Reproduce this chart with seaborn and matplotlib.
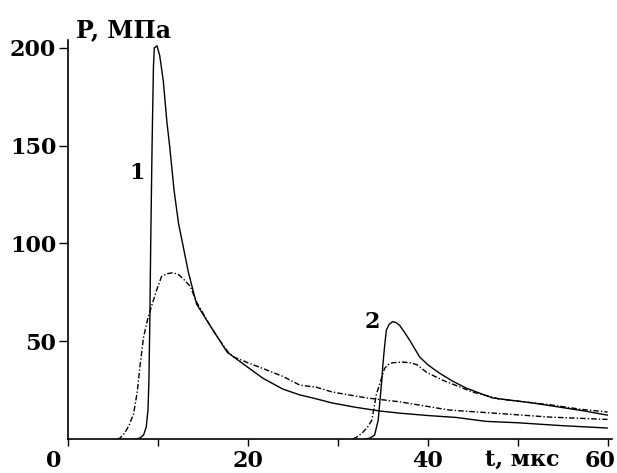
import numpy as np
import pandas as pd
import matplotlib
matplotlib.use("Agg")
import matplotlib.pyplot as plt
import matplotlib.transforms as mtransforms
import seaborn as sns

# curve 1, solid
t1_solid = [7.5, 8.0, 8.4, 8.7, 8.9, 9.0, 9.1, 9.2, 9.35, 9.5, 9.6, 9.9, 10.2, 10.6, 11.0, 11.3,
            11.8, 12.3, 12.7, 13.4, 14.3, 15.8, 16.5, 17.7, 19.9, 21.7, 23.9, 25.8, 27.2, 29.4,
            32.0, 34.7, 36.9, 40.0, 43.2, 46.5, 50.0, 55.0, 60.0]
p1_solid = [0, 0.5, 2, 6, 15, 30, 60, 100, 150, 190, 200, 201, 196, 183, 162, 150,
            127, 110, 101, 85, 69, 58, 53, 44.4, 37, 31, 25.5, 22.5, 21, 18.4,
            16.2, 14.3, 13.2, 12.0, 11.0, 9.0, 8.3, 6.8, 5.6]

# curve 1, dash-dot
t1_dash = [5.5, 5.8, 6.3, 6.8, 7.3, 7.7, 8.0, 8.4, 8.9, 9.5, 10.0, 10.4, 11.0, 11.7, 12.3, 12.8,
           13.6, 14.3, 15.8, 16.5, 17.7, 18.4, 20.0, 21.7, 23.9, 25.8, 27.6, 29.4, 33.2, 36.9,
           42.4, 48.0, 53.6, 60.0]
p1_dash = [0, 0.5, 3, 7, 13, 24, 37, 52, 62, 71, 78, 83, 84.5, 85, 84, 82,
           78, 70, 58, 53, 45, 42, 39, 36, 32, 27.5, 26.5, 24, 21, 19,
           14.8, 13, 11.2, 10]

# curve 2, solid
t2_solid = [33.0, 33.6, 34.1, 34.5, 34.7, 34.9, 35.0, 35.2, 35.4, 35.7, 36.1, 36.5, 36.9,
            37.5, 38.0, 39.1, 40.0, 41.3, 42.8, 44.3, 47.2, 51.7, 57.2, 60.0]
p2_solid = [0, 0.5, 2, 9.7, 20, 30, 37, 47, 55.6, 58.5, 60, 59.5, 58,
            54, 50.5, 42, 38, 33.7, 29.5, 26, 21, 18.4, 14.5, 12.2]

# curve 2, dash-dot
t2_dash = [31.7, 32.3, 32.8, 33.3, 33.8, 34.3, 34.7, 35.2, 35.6, 36.1, 37.2, 38.0, 38.8,
           39.9, 41.7, 45.0, 48.0, 53.6, 57.0, 60.0]
p2_dash = [0, 1.5, 3.5, 6, 9.7, 23, 28.6, 36, 38, 39, 39.3, 39, 38,
           34, 30, 24, 20.4, 17.5, 15.2, 13.8]

x_ticks = [0, 10, 20, 30, 40, 50, 60]
x_labels = ["0", "", "20", "", "40", "", "60"]
y_ticks = [50, 100, 150, 200]
y_labels = ["50", "100", "150", "200"]

sns.set_style("ticks")
plt.rcParams["font.family"] = ["DejaVu Serif"]
plt.rcParams["font.weight"] = "bold"
plt.rcParams["text.color"] = "black"

fig = plt.figure(figsize=(6.17, 4.73), dpi=100)
ax = fig.add_axes([0.1102, 0.0719, 0.8817, 0.8436])

curves = [
    (t1_solid, p1_solid, "-"),
    (t1_dash, p1_dash, (0, (4, 1.5, 1, 1.5))),
    (t2_solid, p2_solid, "-"),
    (t2_dash, p2_dash, (0, (4, 1.5, 1, 1.5))),
]
for t, p, ls in curves:
    df = pd.DataFrame({"t": t, "P": p})
    sns.lineplot(data=df, x="t", y="P", ax=ax, color="black", lw=1.0,
                 linestyle=ls, estimator=None, sort=False)

ax.set_xlim(0, 60.5)
ax.set_ylim(0, 204)
ax.set_xticks(x_ticks)
ax.set_xticklabels(x_labels)
ax.set_yticks(y_ticks)
ax.set_yticklabels(y_labels)
ax.set_xlabel("")
ax.set_ylabel("")
sns.despine(ax=ax)
for s in ["left", "bottom"]:
    ax.spines[s].set_linewidth(1.2)
    ax.spines[s].set_color("black")
ax.tick_params(axis="x", length=5, width=1.0, pad=3, labelsize=16, colors="black")
ax.tick_params(axis="y", length=6.5, width=1.0, pad=2, labelsize=16, colors="black")
for lab in ax.get_xticklabels() + ax.get_yticklabels():
    lab.set_fontweight("bold")

# shift "0" and "60" a little left like in the original
xl = ax.get_xticklabels()
xl[0].set_transform(xl[0].get_transform() + mtransforms.ScaledTranslation(-0.14, 0, fig.dpi_scale_trans))
xl[-1].set_transform(xl[-1].get_transform() + mtransforms.ScaledTranslation(-0.07, 0, fig.dpi_scale_trans))

ax.text(7.7, 136, "1", fontsize=16, fontweight="bold", ha="center", va="center", color="black")
ax.text(33.8, 60, "2", fontsize=16, fontweight="bold", ha="center", va="center", color="black")

fig.text(0.123, 0.937, "P, МПа", fontsize=17, fontweight="bold", ha="left", va="center", color="black")
fig.text(0.846, 0.028, "t, мкс", fontsize=16, fontweight="bold", ha="center", va="center", color="black")

fig.savefig("out.png", dpi=100, facecolor="white")
